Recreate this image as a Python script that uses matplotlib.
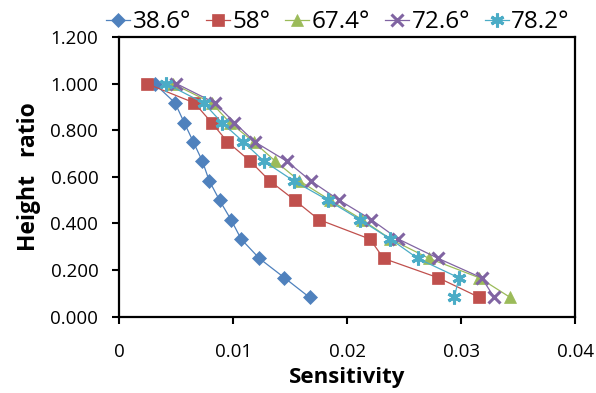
import matplotlib
matplotlib.use("Agg")
import matplotlib.pyplot as plt
from matplotlib.ticker import FuncFormatter, MultipleLocator

# height ratio levels (shared by all series)
height = [1.000, 0.917, 0.833, 0.750, 0.667, 0.583, 0.500, 0.417, 0.333, 0.250, 0.167, 0.083]

s38 = [0.0031, 0.0049, 0.0057, 0.0065, 0.0073, 0.0079, 0.0088, 0.0098, 0.0107, 0.0123, 0.0145, 0.0167]
s58 = [0.0024, 0.0066, 0.0081, 0.0095, 0.0115, 0.0132, 0.0154, 0.0175, 0.0220, 0.0232, 0.0280, 0.0316]
s67 = [0.0047, 0.0081, 0.0097, 0.0118, 0.0137, 0.0158, 0.0185, 0.0213, 0.0238, 0.0272, 0.0316, 0.0343]
s72 = [0.0050, 0.0084, 0.0101, 0.0119, 0.0147, 0.0168, 0.0193, 0.0221, 0.0245, 0.0280, 0.0318, 0.0329]
s78 = [0.0041, 0.0074, 0.0090, 0.0109, 0.0127, 0.0153, 0.0183, 0.0211, 0.0238, 0.0262, 0.0298, 0.0294]

labels = ["38.6°", "58°", "67.4°", "72.6°", "78.2°"]

plt.rcParams["font.family"] = ["Open Sans", "DejaVu Sans"]

fig = plt.figure(figsize=(5.96, 3.93), dpi=100)
ax = fig.add_axes([0.200, 0.194, 0.765, 0.712])

styles = [
    (s38, "#4F81BD", "D", 7, 0.5),
    (s58, "#C0504D", "s", 8.5, 0.5),
    (s67, "#9BBB59", "^", 8.5, 0.5),
    (s72, "#8064A2", "x", 9, 2.2),
    (s78, "#4BACC6", (6, 2, 0), 10, 2.2),
]

for (vals, color, mk, ms, mew), lab in zip(styles, labels):
    ax.plot(vals, height, color=color, lw=0.9, marker=mk, markersize=ms,
            markeredgewidth=mew, markeredgecolor=color, label=lab)

ax.set_xlim(0, 0.04)
ax.set_ylim(0, 1.2)
ax.xaxis.set_major_locator(MultipleLocator(0.01))
ax.yaxis.set_major_locator(MultipleLocator(0.2))
ax.xaxis.set_major_formatter(FuncFormatter(lambda v, p: "0" if abs(v) < 1e-12 else f"{v:g}"))
ax.yaxis.set_major_formatter(FuncFormatter(lambda v, p: f"{v:.3f}"))
ax.tick_params(axis="both", labelsize=13.5, width=1.5, length=5, direction="out")
ax.tick_params(axis="x", pad=14)
ax.tick_params(axis="y", pad=10)

for sp in ax.spines.values():
    sp.set_linewidth(1.6)

ax.set_xlabel("Sensitivity", fontsize=16, fontweight="bold", labelpad=4)
ax.set_ylabel("Height   ratio", fontsize=16.5, fontweight="bold", labelpad=7)

fig.legend(loc="center", bbox_to_anchor=(0.567, 0.944), ncol=5, frameon=False,
           fontsize=17.5, handlelength=1.0, handletextpad=0.1, columnspacing=0.6,
           borderaxespad=0, borderpad=0)

fig.savefig("out.png", dpi=100)
